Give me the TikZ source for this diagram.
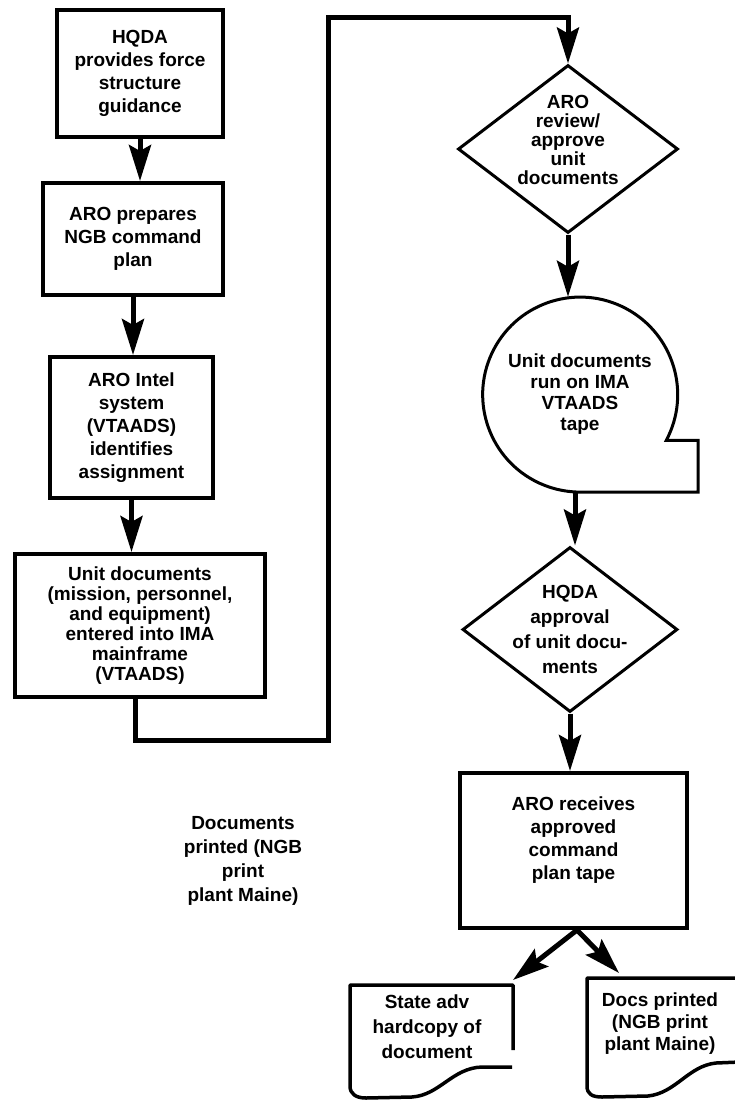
\documentclass[tikz,border=0pt]{standalone}
\usepackage{fontspec}
\setmainfont{Liberation Sans}
\usetikzlibrary{shapes.geometric,arrows.meta}
\begin{document}
\begin{tikzpicture}[x=1pt,y=-1pt,
  txt/.style={font=\fontsize{19}{23}\selectfont\bfseries, align=center, inner sep=0pt},
  box/.style={draw, line width=4pt, inner sep=0pt, txt},
  dia/.style={draw, diamond, line width=3pt, inner sep=0pt},
  arr/.style={line width=5pt, line join=miter, -{Stealth[length=36pt,width=22pt,inset=6pt]}},
  docline/.style={line width=3.5pt, line join=round},
  tapeline/.style={line width=3pt, line join=miter}]
\fill[white] (0,0) rectangle (735,1101);
\useasboundingbox (0,0) rectangle (735,1101);

% left column boxes
\node[box, minimum width=166pt, minimum height=127pt] (b1) at (140,73.5)
  {HQDA\\provides force\\structure\\guidance};
\node[box, minimum width=180pt, minimum height=112pt] (b2) at (133,239)
  {ARO prepares\\NGB command\\plan};
\node[box, minimum width=163pt, minimum height=141pt] (b3) at (131.5,427.5)
  {ARO Intel\\system\\(VTAADS)\\identifies\\assignment};
\node[box, minimum width=250pt, minimum height=143pt, font=\fontsize{19}{20}\selectfont\bfseries] (b4) at (140,625.5)
  {Unit documents\\(mission, personnel,\\and equipment)\\entered into IMA\\mainframe\\(VTAADS)};

% right column
\node[dia, minimum width=220pt, minimum height=168pt,
  label={[txt, font=\fontsize{19}{19}\selectfont\bfseries, yshift=9pt]center:{ARO\\review/\\approve\\unit\\documents}}] (d1) at (568,149) {};
\node[txt, circle, minimum size=195pt, font=\fontsize{19}{21}\selectfont\bfseries] (tape) at (580,394.5)
  {Unit documents\\run on IMA\\VTAADS\\tape};
\coordinate (tr) at (698,0);
\draw[tapeline] (tape.-28) arc[start angle=-28, end angle=270, radius=97.5pt]
  -- (tr |- tape.south) -- (tr |- tape.-28) -- cycle;
\node[dia, minimum width=215pt, minimum height=165pt,
  label={[txt, font=\fontsize{19}{25}\selectfont\bfseries]center:{HQDA\\approval\\of unit docu-\\ments}}] (d2) at (570,629.5) {};
\node[box, minimum width=227pt, minimum height=155pt,
  label={[txt, yshift=10pt]center:{ARO receives\\approved\\command\\plan tape}}] (b5) at (573.5,850.5) {};

% floating text
\node[txt, font=\fontsize{19}{24}\selectfont\bfseries] (fl) at (243,861)
  {Documents\\printed (NGB\\print\\plant Maine)};

% documents at the bottom
\draw[docline] (513,1050) -- (513,985) -- (350,985) -- (350,1086)
  .. controls (350,1094) and (356,1098) .. (366,1098) -- (412,1097)
  .. controls (440,1095) and (452,1068) .. (482,1067) -- (512,1067);
\node[txt, font=\fontsize{19}{25}\selectfont\bfseries] (ldoc) at (427,1027)
  {State adv\\hardcopy of\\document};
\draw[docline] (740,978) -- (587,978) -- (587,1086)
  .. controls (587,1094) and (592,1097) .. (602,1097) -- (648,1096)
  .. controls (676,1093) and (688,1066) .. (716,1063) -- (740,1062);
\node[txt, font=\fontsize{19}{22}\selectfont\bfseries] (rdoc) at (660,1023.5)
  {Docs printed\\(NGB print\\plant Maine)};
\coordinate (ld) at (513,980);
\coordinate (rd) at (619,973);

% connectors
\draw[arr] (b1.south) -- (b1.south |- b2.north);
\draw[arr] (b2.south) -- (b2.south |- b3.north);
\draw[arr] (b3.south) -- (b3.south |- b4.north);
\coordinate (c1) at (328,740);
\coordinate (c2) at (328,17);
\draw[arr] ([xshift=-5pt]b4.south) |- (c1) -- (c2) -| (d1.north);
\draw[arr] (d1.south) -- (d1.south |- tape.north);
\draw[arr] ([xshift=-5pt]tape.south) -- ([xshift=-5pt]tape.south |- d2.north);
\draw[arr] (d2.south) -- (d2.south |- b5.north);
\coordinate (bs) at (577,930);
\draw[arr] (bs) -- (ld);
\draw[arr] (bs) -- (rd);
\end{tikzpicture}
\end{document}
